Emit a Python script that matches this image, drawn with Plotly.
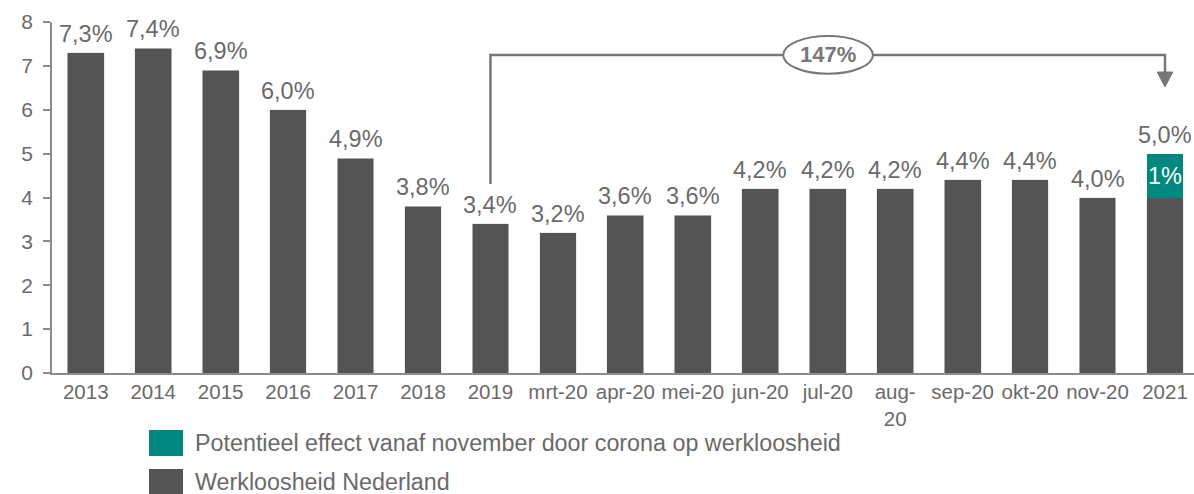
import plotly.graph_objects as go

categories = ["2013", "2014", "2015", "2016", "2017", "2018", "2019", "mrt-20", "apr-20",
              "mei-20", "jun-20", "jul-20", "aug-<br>20", "sep-20", "okt-20", "nov-20", "2021"]
werkloosheid = [7.3, 7.4, 6.9, 6.0, 4.9, 3.8, 3.4, 3.2, 3.6, 3.6, 4.2, 4.2, 4.2, 4.4, 4.4, 4.0, 4.0]
corona_effect = [None] * 16 + [1.0]
corona_text = [""] * 16 + ["1%"]
total_labels = ["7,3%", "7,4%", "6,9%", "6,0%", "4,9%", "3,8%", "3,4%", "3,2%", "3,6%",
                "3,6%", "4,2%", "4,2%", "4,2%", "4,4%", "4,4%", "4,0%", "5,0%"]
growth_label = "147%"
legend_names = ["Potentieel effect vanaf november door corona op werkloosheid", "Werkloosheid Nederland"]

DARK = "#545454"
TEAL = "#00877F"
TXT = "#6a6a6a"
LINE = "#777777"
FONT = "Liberation Sans, Arial, sans-serif"

idx = list(range(len(categories)))
totals = [w + (c or 0) for w, c in zip(werkloosheid, corona_effect)]

fig = go.Figure()
fig.add_trace(go.Bar(x=idx, y=werkloosheid, marker=dict(color=DARK, line=dict(color="#e0e0e0", width=0.6)),
                     name=legend_names[1], showlegend=False, hoverinfo="skip"))
fig.add_trace(go.Bar(x=idx, y=corona_effect, marker=dict(color=TEAL, line=dict(width=0)),
                     text=corona_text, textposition="inside", insidetextanchor="middle",
                     textangle=0, constraintext="none",
                     textfont=dict(color="white", size=23.5, family=FONT),
                     name=legend_names[0], showlegend=False, hoverinfo="skip"))

for i, (t, lab) in enumerate(zip(totals, total_labels)):
    fig.add_annotation(x=i, y=t, text=lab, showarrow=False, yanchor="middle",
                       yshift=19, font=dict(color=TXT, size=23.5, family=FONT))

# bracket from 2019 to 2021
i19 = categories.index("2019")
i21 = categories.index("2021")
ytop = 7.25
fig.add_shape(type="path", xref="x", yref="y",
              path=f"M {i19} 4.31 L {i19} {ytop} L {i21} {ytop} L {i21} 6.86",
              line=dict(color=LINE, width=2.5))
fig.add_shape(type="path", xref="x", yref="y",
              path=f"M {i21-0.115} 6.86 L {i21+0.115} 6.86 L {i21} 6.52 Z",
              fillcolor=LINE, line=dict(color=LINE, width=1))
mid = (i19 + i21) / 2
fig.add_shape(type="circle", xref="x", yref="y", x0=mid - 0.66, x1=mid + 0.67, y0=6.82, y1=7.68,
              fillcolor="white", line=dict(color=LINE, width=2))
fig.add_annotation(x=mid, y=ytop, text=f"<b>{growth_label}</b>", showarrow=False,
                   font=dict(size=22, color=LINE, family=FONT))

# manual legend
def px_x(p):
    return (p - 52) / 1142
def px_y(p):
    return (373 - p) / 351

for (color, name, yc) in [(TEAL, legend_names[0], 443), (DARK, legend_names[1], 482)]:
    fig.add_shape(type="rect", xref="paper", yref="paper",
                  x0=px_x(149), x1=px_x(183), y0=px_y(yc + 13), y1=px_y(yc - 13),
                  fillcolor=color, line=dict(width=0))
    fig.add_annotation(xref="paper", yref="paper", x=px_x(193), y=px_y(yc), text=name,
                       xanchor="left", yanchor="middle", showarrow=False,
                       font=dict(size=23.3, color=TXT, family=FONT))

fig.update_layout(
    width=1194, height=494,
    margin=dict(l=52, r=0, t=22, b=121),
    plot_bgcolor="white", paper_bgcolor="white",
    barmode="stack", bargap=0.455,
    font=dict(family=FONT, color=TXT),
    showlegend=False,
)
fig.update_xaxes(
    range=[-0.5, 16.43], tickmode="array", tickvals=idx, ticktext=categories,
    showline=True, linecolor="#8c8c8c", linewidth=1.5, ticks="", showgrid=False, zeroline=False,
    tickfont=dict(size=20.5, color=TXT, family=FONT), tickangle=0, fixedrange=True,
)
fig.update_yaxes(
    range=[0, 8], dtick=1, showline=True, linecolor="#8c8c8c", linewidth=1.5,
    ticks="outside", ticklen=7, tickcolor="#8c8c8c", tickwidth=1.5, showgrid=False, zeroline=False,
    tickfont=dict(size=21, color=TXT, family=FONT), ticklabelstandoff=6, fixedrange=True,
)

fig.write_html("out.html", config={"displayModeBar": False},
               post_script="document.body.style.margin='0';document.body.style.overflow='hidden';")
